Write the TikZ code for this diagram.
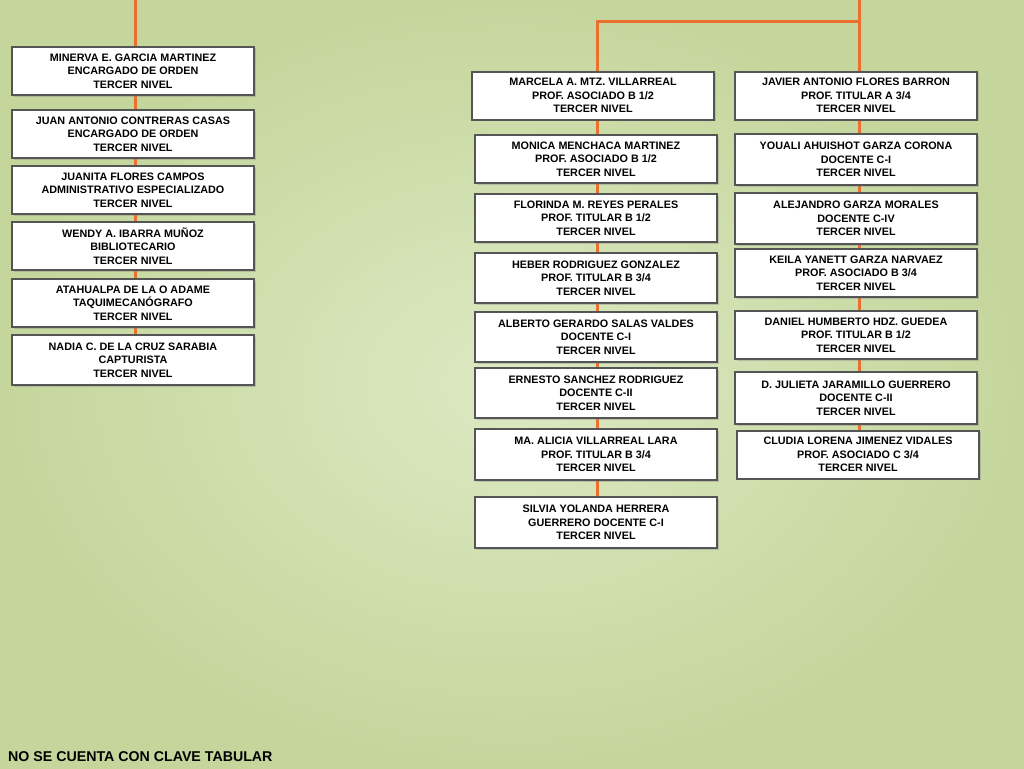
\documentclass[tikz,border=0pt]{standalone}
\usepackage{fontspec}
\setmainfont{Liberation Sans}
\usetikzlibrary{shadows,backgrounds}
\definecolor{bgedge}{HTML}{C4D69C}
\definecolor{bgmid}{HTML}{DDE9C3}
\definecolor{linkorange}{HTML}{EC6F2D}
\definecolor{boxgray}{HTML}{555555}
\begin{document}
\begin{tikzpicture}[x=1pt, y=-1pt]

\tikzstyle{puesto}=[draw=boxgray, line width=2pt, fill=white, minimum width=242pt, minimum height=48pt, align=center, inner sep=1pt, font=\fontsize{10.8}{13.5}\selectfont\bfseries, drop shadow={opacity=0.35, shadow xshift=1.5pt, shadow yshift=-1.5pt}]
\tikzstyle{liga}=[draw=linkorange, line width=3pt]

\useasboundingbox (0,0) rectangle (1024,768);

% --- columna izquierda ---
\node[puesto] (l1) at (133,71) {MINERVA E. GARCIA MARTINEZ\\ENCARGADO DE ORDEN\\TERCER NIVEL};
\node[puesto] (l2) at (133,134) {JUAN ANTONIO CONTRERAS CASAS\\ENCARGADO DE ORDEN\\TERCER NIVEL};
\node[puesto] (l3) at (133,190) {JUANITA FLORES CAMPOS\\ADMINISTRATIVO ESPECIALIZADO\\TERCER NIVEL};
\node[puesto] (l4) at (133,246) {WENDY A. IBARRA MUÑOZ\\BIBLIOTECARIO\\TERCER NIVEL};
\node[puesto] (l5) at (133,303) {ATAHUALPA DE LA O ADAME\\TAQUIMECANÓGRAFO\\TERCER NIVEL};
\node[puesto, minimum height=50pt] (l6) at (133,360) {NADIA C. DE LA CRUZ SARABIA\\CAPTURISTA\\TERCER NIVEL};

% --- columna central ---
\node[puesto] (m1) at (593,95.5) {MARCELA A. MTZ. VILLARREAL\\PROF. ASOCIADO B 1/2\\TERCER NIVEL};
\node[puesto] (m2) at (596,159) {MONICA MENCHACA MARTINEZ\\PROF. ASOCIADO B 1/2\\TERCER NIVEL};
\node[puesto] (m3) at (596,218) {FLORINDA M. REYES PERALES\\PROF. TITULAR B 1/2\\TERCER NIVEL};
\node[puesto, minimum height=50pt] (m4) at (596,278) {HEBER RODRIGUEZ GONZALEZ\\PROF. TITULAR B 3/4\\TERCER NIVEL};
\node[puesto, minimum height=50pt] (m5) at (596,337) {ALBERTO GERARDO SALAS VALDES\\DOCENTE C-I\\TERCER NIVEL};
\node[puesto, minimum height=50pt] (m6) at (596,393) {ERNESTO SANCHEZ RODRIGUEZ\\DOCENTE C-II\\TERCER NIVEL};
\node[puesto, minimum height=51pt] (m7) at (596,454.5) {MA. ALICIA VILLARREAL LARA\\PROF. TITULAR B 3/4\\TERCER NIVEL};
\node[puesto, minimum height=51pt] (m8) at (596,522.5) {SILVIA YOLANDA HERRERA\\GUERRERO DOCENTE C-I\\TERCER NIVEL};

% --- columna derecha ---
\node[puesto] (r1) at (856,95.5) {JAVIER ANTONIO FLORES BARRON\\PROF. TITULAR A 3/4\\TERCER NIVEL};
\node[puesto, minimum height=51pt] (r2) at (856,159.5) {YOUALI AHUISHOT GARZA CORONA\\DOCENTE C-I\\TERCER NIVEL};
\node[puesto, minimum height=51pt] (r3) at (856,218.5) {ALEJANDRO GARZA MORALES\\DOCENTE C-IV\\TERCER NIVEL};
\node[puesto] (r4) at (856,273) {KEILA YANETT GARZA NARVAEZ\\PROF. ASOCIADO B 3/4\\TERCER NIVEL};
\node[puesto] (r5) at (856,335) {DANIEL HUMBERTO HDZ. GUEDEA\\PROF. TITULAR B 1/2\\TERCER NIVEL};
\node[puesto, minimum height=52pt] (r6) at (856,398) {D. JULIETA JARAMILLO GUERRERO\\DOCENTE C-II\\TERCER NIVEL};
\node[puesto] (r7) at (858,454.5) {CLUDIA LORENA JIMENEZ VIDALES\\PROF. ASOCIADO C 3/4\\TERCER NIVEL};

% --- fondo y lineas ---
\coordinate (topl) at (135,0);
\coordinate (topr) at (859,0);
\coordinate (jr) at (859,22);
\coordinate (jm) at (597,22);
\begin{scope}[on background layer]
\shade[inner color=bgmid, outer color=bgedge] (0,0) rectangle (1024,768);
\draw[liga] (topl) -- (topl |- l6.north);
\draw[liga] (topr) -- (jr) -- (jm) -- (jm |- m8.north);
\draw[liga] (jr) -- (jr |- r7.north);
\end{scope}

\node[anchor=west, font=\fontsize{14.2}{16}\selectfont\bfseries, inner sep=0pt] (nota) at (8,757) {NO SE CUENTA CON CLAVE TABULAR};

\end{tikzpicture}
\end{document}
